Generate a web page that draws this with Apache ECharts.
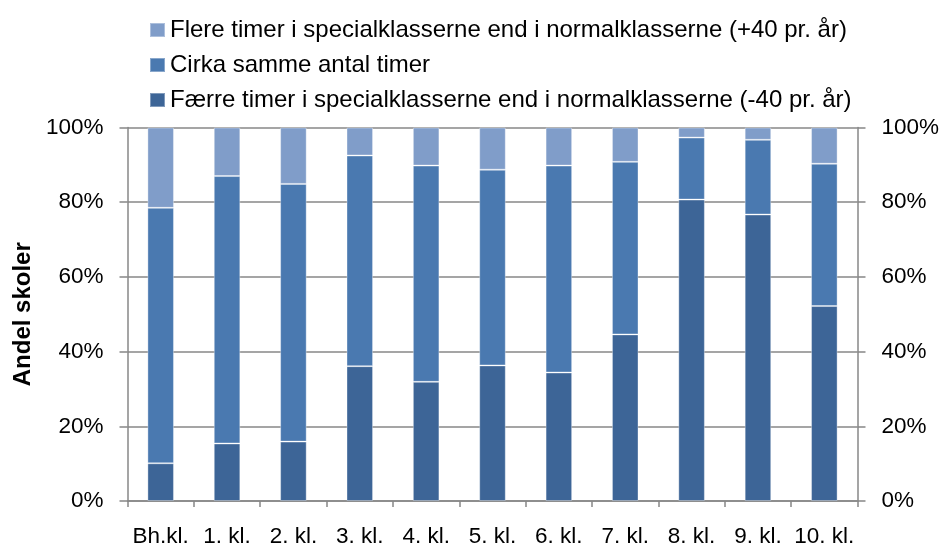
<!DOCTYPE html>
<html>
<head>
<meta charset="utf-8">
<script src="https://cdn.jsdelivr.net/npm/echarts@6/dist/echarts.min.js"></script>
<style>
  html, body { margin: 0; padding: 0; background: #fff; }
  #chart { width: 943px; height: 545px; }
</style>
</head>
<body>
<div id="chart"></div>
<script>
    // ---------- data (andel skoler, %) ----------
    const categories = ['Bh.kl.', '1. kl.', '2. kl.', '3. kl.', '4. kl.', '5. kl.', '6. kl.', '7. kl.', '8. kl.', '9. kl.', '10. kl.'];
    const faerreTimer = [10.1, 15.4, 15.9, 36.1, 31.9, 36.3, 34.4, 44.6, 80.7, 76.7, 52.2];
    const sammeTimer  = [68.4, 71.6, 69.0, 56.4, 57.9, 52.4, 55.4, 46.2, 16.6, 20.0, 38.1];
    const flereTimer  = [21.5, 13.0, 15.1, 7.5, 10.2, 11.3, 10.2, 9.2, 2.7, 3.3, 9.7];
    const yTicks = [0, 20, 40, 60, 80, 100];

    const NAME_FLERE = 'Flere timer i specialklasserne end i normalklasserne (+40 pr. år)';
    const NAME_SAMME = 'Cirka samme antal timer';
    const NAME_FAERRE = 'Færre timer i specialklasserne end i normalklasserne (-40 pr. år)';

    const FONT = 'Liberation Sans, Arial, sans-serif';
    const AXIS_GRAY = '#878787';

    const chart = echarts.init(document.getElementById('chart'));

    function barSeries(name, data, color) {
      return {
        name: name,
        type: 'bar',
        stack: 'total',
        barWidth: '40%',
        data: data,
        itemStyle: { color: color, borderColor: 'rgba(255,255,255,0.35)', borderWidth: 1 },
        emphasis: { disabled: true }
      };
    }

    function yAxisDef(pos, showSplit) {
      return {
        type: 'value',
        position: pos,
        min: yTicks[0],
        max: yTicks[yTicks.length - 1],
        interval: yTicks[1] - yTicks[0],
        axisLine: { show: true, lineStyle: { color: AXIS_GRAY, width: 1.5 } },
        axisTick: { show: true, length: 8, lineStyle: { color: AXIS_GRAY, width: 1.5 } },
        axisLabel: {
          formatter: '{value}%',
          color: '#000',
          fontFamily: FONT,
          fontSize: 22.5,
          margin: 24
        },
        splitLine: { show: showSplit, lineStyle: { color: AXIS_GRAY, width: 1.5 } }
      };
    }

    const leftAxis = yAxisDef('left', true);
    leftAxis.name = 'Andel skoler';
    leftAxis.nameLocation = 'middle';
    leftAxis.nameRotate = 90;
    leftAxis.nameGap = 90;
    leftAxis.nameTextStyle = { fontFamily: FONT, fontSize: 24, fontWeight: 'bold', color: '#000' };

    chart.setOption({
      animation: false,
      backgroundColor: '#fff',
      legend: {
        orient: 'vertical',
        left: 144,
        top: 12,
        itemWidth: 15,
        itemHeight: 14,
        itemGap: 9,
        icon: 'rect',
        data: [NAME_FLERE, NAME_SAMME, NAME_FAERRE],
        textStyle: { fontFamily: FONT, fontSize: 24, color: '#000', lineHeight: 26 },
        selectedMode: false
      },
      grid: { left: 127.5, right: 85.5, top: 127.5, bottom: 44, containLabel: false, outerBoundsMode: 'none' },
      xAxis: {
        type: 'category',
        data: categories,
        axisLine: { show: true, lineStyle: { color: AXIS_GRAY, width: 1.5 } },
        axisTick: { show: true, length: 6, lineStyle: { color: AXIS_GRAY, width: 1.5 } },
        axisLabel: { color: '#000', fontFamily: FONT, fontSize: 22.5, margin: 24, interval: 0 }
      },
      yAxis: [leftAxis, yAxisDef('right', false)],
      series: [
        barSeries(NAME_FAERRE, faerreTimer, '#3D6597'),
        barSeries(NAME_SAMME, sammeTimer, '#4A79B0'),
        barSeries(NAME_FLERE, flereTimer, '#809DC9')
      ]
    });
</script>
</body>
</html>
